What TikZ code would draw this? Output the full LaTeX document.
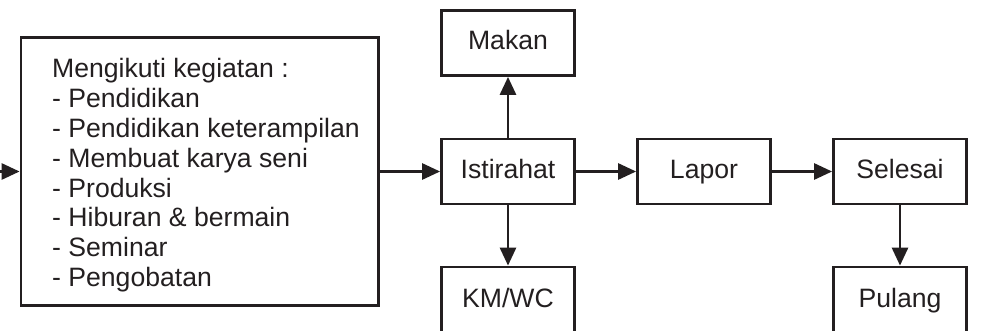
\documentclass[tikz,border=0pt]{standalone}
\usepackage{fontspec}
\setmainfont{Liberation Sans}
\usetikzlibrary{arrows.meta}
\definecolor{ink}{HTML}{231F20}
\begin{document}
\begin{tikzpicture}[x=1pt,y=-1pt,
  box/.style={draw=ink, line width=2.8pt, minimum width=133pt, minimum height=65pt,
    inner sep=0pt, text height=20pt, text depth=6pt,
    font=\fontsize{26.6}{29.9}\selectfont, text=ink},
  conn/.style={draw=ink, line width=2.8pt, -{Triangle[length=18pt,width=16pt]}}]
\useasboundingbox (0,0) rectangle (983,331);
\fill[white] (0,0) rectangle (983,331);
\clip (0,0) rectangle (983,330.4);
\node[box] (makan) at (508,43) {Makan};
\node[box] (ist) at (508,171.5) {Istirahat};
\node[box, minimum height=66pt] (km) at (508,300) {KM/WC};
\node[box] (lapor) at (704,171.5) {Lapor};
\node[box] (selesai) at (900,171.5) {Selesai};
\node[box, minimum height=66pt] (pulang) at (900,300) {Pulang};
\node[draw=ink, line width=2.8pt, minimum width=357.5pt, minimum height=268pt, inner sep=0pt] (act) at (199.75,171.5) {};
\node[anchor=north west, inner sep=0pt, align=left, text=ink,
  font=\fontsize{26.6}{29.9}\selectfont] (acttext) at (52,58)
  {Mengikuti kegiatan :\\- Pendidikan\\- Pendidikan keterampilan\\- Membuat karya seni\\- Produksi\\- Hiburan \& bermain\\- Seminar\\- Pengobatan};
\coordinate (start) at (0,171.5);
\draw[conn] (start) -- (act.west);
\draw[conn] (act.east) -- (ist.west);
\draw[conn] (ist.north) -- (makan.south);
\draw[conn] (ist.south) -- (km.north);
\draw[conn] (ist.east) -- (lapor.west);
\draw[conn] (lapor.east) -- (selesai.west);
\draw[conn] (selesai.south) -- (pulang.north);
\end{tikzpicture}
\end{document}
